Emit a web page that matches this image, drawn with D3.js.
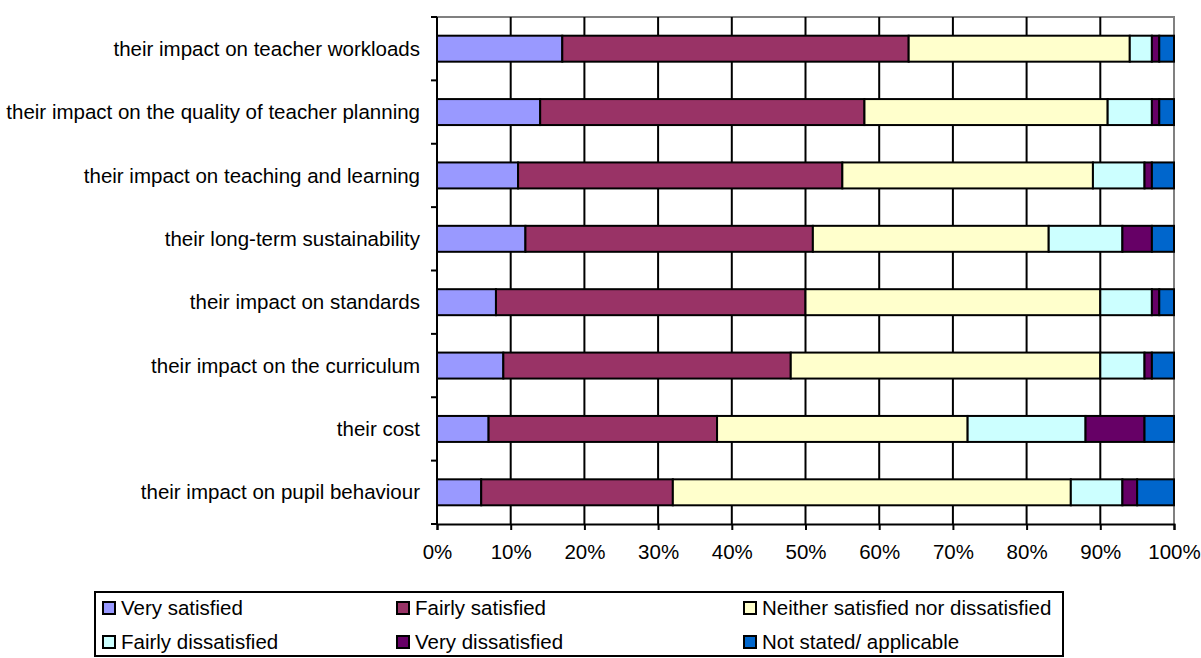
<!DOCTYPE html>
<html>
<head>
<meta charset="utf-8">
<script src="https://cdn.jsdelivr.net/npm/d3@7"></script>
<style>
  body { margin:0; background:#fff; }
  text { font-family: "Liberation Sans", Arial, sans-serif; fill:#000; }
</style>
</head>
<body>
<div id="chart"></div>
<script>
// categories, top to bottom
var categories = [
  "their impact on teacher workloads",
  "their impact on the quality of teacher planning",
  "their impact on teaching and learning",
  "their long-term sustainability",
  "their impact on standards",
  "their impact on the curriculum",
  "their cost",
  "their impact on pupil behaviour"
];
var seriesNames = ["Very satisfied", "Fairly satisfied", "Neither satisfied nor dissatisfied",
                   "Fairly dissatisfied", "Very dissatisfied", "Not stated/ applicable"];
var seriesColors = ["#9999FF", "#993366", "#FFFFCC", "#CCFFFF", "#660066", "#0066CC"];

// percentages per series (same order as categories)
var verySatisfied    = [17, 14, 11, 12,  8,  9,  7,  6];
var fairlySatisfied  = [47, 44, 44, 39, 42, 39, 31, 26];
var neither          = [30, 33, 34, 32, 40, 42, 34, 54];
var fairlyDissat     = [ 3,  6,  7, 10,  7,  6, 16,  7];
var veryDissat       = [ 1,  1,  1,  4,  1,  1,  8,  2];
var notStated        = [ 2,  2,  3,  3,  2,  3,  4,  5];
var xTicks = [0, 10, 20, 30, 40, 50, 60, 70, 80, 90, 100];

var values = [verySatisfied, fairlySatisfied, neither, fairlyDissat, veryDissat, notStated];
var rows = categories.map(function(c, i){
  var r = {cat: c};
  seriesNames.forEach(function(s, j){ r[s] = values[j][i]; });
  return r;
});
var stacked = d3.stack().keys(seriesNames)(rows);

var W = 1201, H = 658, fs = 20.5;
var svg = d3.select("#chart").append("svg").attr("width", W).attr("height", H);

var x = d3.scaleLinear().domain([0, 100]).range([437, 1174]);
var y = d3.scaleBand().domain(categories).range([17, 524]).paddingInner(0.59).paddingOuter(0.295);
var yb = d3.scaleBand().domain(categories).range([17, 524]);

// plot border (grey top/right)
svg.append("path")
  .attr("d", "M" + x(0) + "," + 17 + "H" + x(100) + "V" + 524)
  .attr("fill", "none").attr("stroke", "#808080").attr("stroke-width", 2);

// vertical grid lines
svg.append("g").selectAll("line").data(xTicks.slice(1, -1)).join("line")
  .attr("x1", function(d){ return x(d); }).attr("x2", function(d){ return x(d); })
  .attr("y1", 17).attr("y2", 524)
  .attr("stroke", "#000").attr("stroke-width", 2);

// bars
svg.append("g").selectAll("g").data(stacked).join("g")
  .attr("fill", function(d, i){ return seriesColors[i]; })
  .selectAll("rect").data(function(d){ return d; }).join("rect")
  .attr("x", function(d){ return x(d[0]); })
  .attr("width", function(d){ return x(d[1]) - x(d[0]); })
  .attr("y", function(d){ return y(d.data.cat); })
  .attr("height", y.bandwidth())
  .attr("stroke", "#000").attr("stroke-width", 2);

// x axis
var xAxis = svg.append("g").attr("transform", "translate(0,524)")
  .call(d3.axisBottom(x).tickValues(xTicks).tickSize(6).tickPadding(14)
    .tickFormat(function(d){ return d + "%"; }));
xAxis.select(".domain").attr("stroke", "#000").attr("stroke-width", 2);
xAxis.selectAll(".tick line").attr("stroke", "#000").attr("stroke-width", 2);
xAxis.selectAll("text").attr("font-size", fs).attr("font-family", "Liberation Sans, Arial, sans-serif");

// y axis: ticks on category boundaries
svg.append("line").attr("x1", x(0)).attr("x2", x(0)).attr("y1", 17).attr("y2", 524)
  .attr("stroke", "#000").attr("stroke-width", 2);
var bounds = categories.map(function(c){ return yb(c); }).concat([524]);
svg.append("g").selectAll("line").data(bounds).join("line")
  .attr("x1", x(0) - 6).attr("x2", x(0))
  .attr("y1", function(d){ return d; }).attr("y2", function(d){ return d; })
  .attr("stroke", "#000").attr("stroke-width", 2);
svg.append("g").selectAll("text").data(categories).join("text")
  .attr("x", 420)
  .attr("y", function(d){ return yb(d) + yb.bandwidth() / 2; })
  .attr("dy", "0.35em")
  .attr("text-anchor", "end")
  .attr("font-size", fs)
  .text(function(d){ return d; });

// legend
var legend = svg.append("g");
legend.append("rect").attr("x", 95).attr("y", 592).attr("width", 968).attr("height", 64)
  .attr("fill", "#fff").attr("stroke", "#000").attr("stroke-width", 2);
var colX = [103, 397, 744], rowY = [608, 642];
var items = legend.selectAll("g").data(seriesNames).join("g")
  .attr("transform", function(d, i){ return "translate(" + colX[i % 3] + "," + rowY[Math.floor(i / 3)] + ")"; });
items.append("rect").attr("x", 0).attr("y", -6).attr("width", 12).attr("height", 12)
  .attr("fill", function(d, i){ return seriesColors[i]; })
  .attr("stroke", "#000").attr("stroke-width", 2);
items.append("text").attr("x", 18).attr("dy", "0.35em").attr("font-size", fs)
  .text(function(d){ return d; });
</script>
</body>
</html>
